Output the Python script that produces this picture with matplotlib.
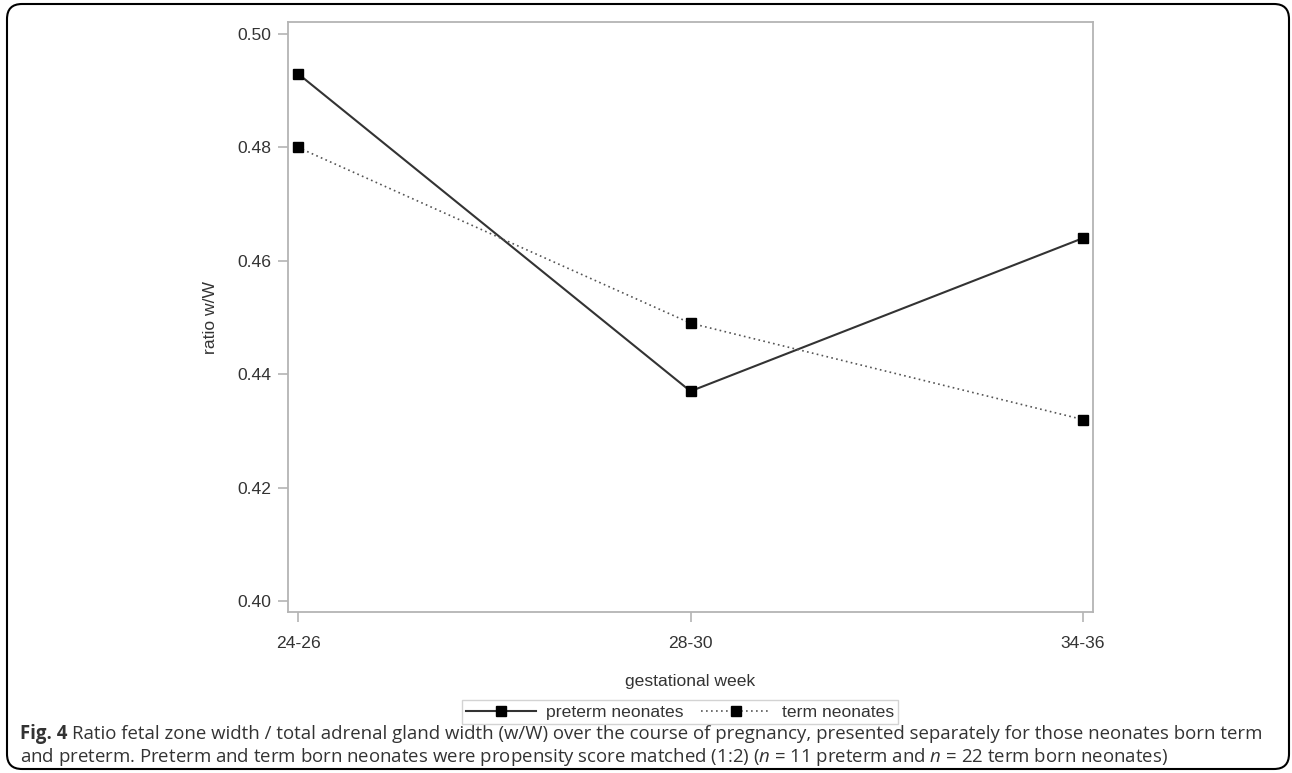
import matplotlib
matplotlib.use('Agg')
import matplotlib.pyplot as plt
from matplotlib.patches import FancyBboxPatch

weeks = ['24-26', '28-30', '34-36']
preterm = [0.493, 0.437, 0.464]
term = [0.480, 0.449, 0.432]
yticks = [0.40, 0.42, 0.44, 0.46, 0.48, 0.50]

W, H = 1292, 773

plt.rcParams['font.family'] = ['Liberation Sans', 'DejaVu Sans']
plt.rcParams['mathtext.fontset'] = 'custom'
plt.rcParams['mathtext.rm'] = 'Open Sans'
plt.rcParams['mathtext.it'] = 'Open Sans:italic'

fig = plt.figure(figsize=(W / 100, H / 100), dpi=100)

# outer rounded frame (in inches so the corners stay round)
box = FancyBboxPatch((0.07, 0.04), 12.82, 7.65,
                     boxstyle='round,pad=0,rounding_size=0.15',
                     transform=fig.dpi_scale_trans, fill=False,
                     edgecolor='black', linewidth=1.5)
fig.patches.append(box)

# axes box in pixels: left 288, right 1093, top 22, bottom 612
ax = fig.add_axes([288 / W, 1 - 612 / H, (1093 - 288) / W, (612 - 22) / H])

x = range(len(weeks))
ax.plot(x, preterm, color='#333333', linewidth=1.5, linestyle='-',
        marker='s', markersize=7.5, markerfacecolor='black',
        markeredgecolor='black', label='preterm neonates')
ax.plot(x, term, color='#555555', linewidth=1.2, linestyle=(0, (1, 2)),
        marker='s', markersize=7.5, markerfacecolor='black',
        markeredgecolor='black', label='term neonates')

ax.set_xlim(-0.0255, 2.0255)
ax.set_ylim(0.39806, 0.50212)
ax.set_xticks(list(x))
ax.set_xticklabels(weeks)
ax.set_yticks(yticks)
ax.set_yticklabels(['%.2f' % v for v in yticks])

for s in ax.spines.values():
    s.set_color('#b4b4b4')
    s.set_linewidth(1.3)
ax.tick_params(axis='both', colors='#b4b4b4', length=7, width=1.2,
               labelcolor='#333333', labelsize=12.6, pad=5)
ax.tick_params(axis='x', pad=10)

ax.set_xlabel('gestational week', fontsize=12.6, color='#333333', labelpad=17)
ax.set_ylabel('ratio w/W', fontsize=12.6, color='#333333', labelpad=14)

leg = fig.legend(loc='center', bbox_to_anchor=(680 / W, 1 - 712 / H), ncol=2,
                 frameon=True, fancybox=False, fontsize=12.6, handlelength=4.0,
                 columnspacing=1.0, handletextpad=0.6, borderpad=0.25)
leg.get_frame().set_edgecolor('#c8c8c8')
leg.get_frame().set_linewidth(1.0)
for t in leg.get_texts():
    t.set_color('#333333')

# caption below the chart
cap_size = 13.45
y1 = 1 - 734 / H
y2 = 1 - 757 / H
bold = fig.text(20 / W, y1, 'Fig. 4', fontsize=cap_size, family='Open Sans',
                weight='bold', color='#333333', va='center')
fig.canvas.draw()
bb = bold.get_window_extent(fig.canvas.get_renderer())
cap1 = ('Ratio fetal zone width / total adrenal gland width (w/W) over the course '
        'of pregnancy, presented separately for those neonates born term')
cap2 = (r'and preterm. Preterm and term born neonates were propensity score matched (1:2) '
        r'($n$ = 11 preterm and $n$ = 22 term born neonates)')
fig.text((bb.x1 + 5) / W, y1, cap1, fontsize=cap_size, family='Open Sans',
         color='#333333', va='center')
fig.text(20 / W, y2, cap2, fontsize=cap_size, family='Open Sans',
         color='#333333', va='center')

fig.savefig('out.png', dpi=100)
